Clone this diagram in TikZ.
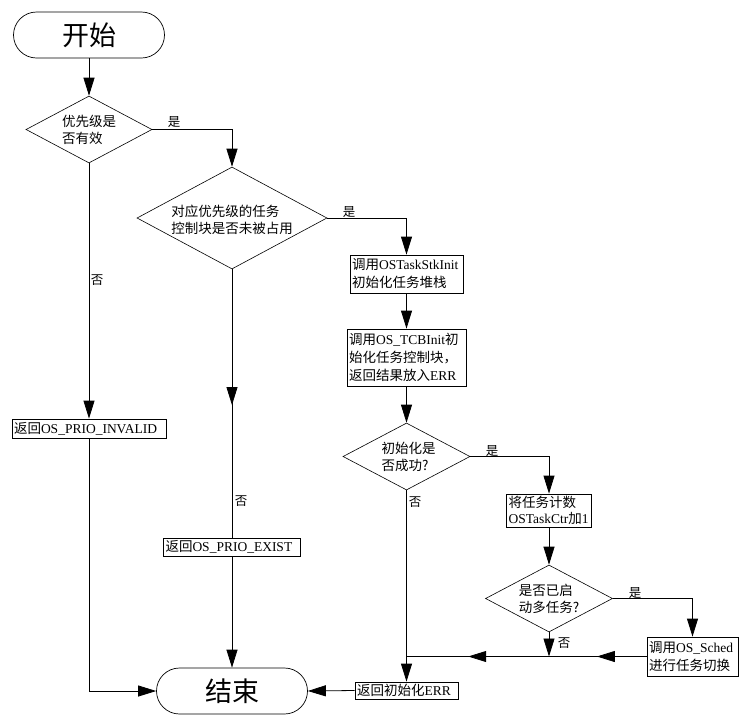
\documentclass[tikz,border=0pt]{standalone}
\usepackage{fontspec}
\setmainfont{Liberation Serif}
\newfontfamily\cjk{Noto Sans CJK SC}
\usetikzlibrary{arrows.meta,shapes.geometric,decorations.markings}
\begin{document}
\begin{tikzpicture}[x=1pt,y=-1pt,
  >={Triangle[length=18pt,width=11pt]},
  every node/.style={font=\fontsize{13.5}{18}\selectfont},
  ln/.style={line width=0.8pt},
  term/.style={draw,line width=0.7pt,rectangle,rounded corners=23pt,minimum width=151pt,minimum height=46pt,inner sep=0pt,font=\fontsize{27}{30}\selectfont\cjk},
  box/.style={draw,line width=0.8pt,rectangle,inner sep=2pt,align=left},
  dia/.style={draw,line width=0.6pt,diamond,inner sep=0pt},
  dtext/.style={align=left,inner sep=0pt,font=\fontsize{13.5}{17}\selectfont\cjk},
  lab/.style={inner sep=0pt,font=\fontsize{12.5}{14}\selectfont\cjk},
  midarr/.style={postaction={decorate},decoration={markings,mark=at position #1 with {\arrow{>}}}},
  twoarr/.style={postaction={decorate},decoration={markings,mark=at position 0.207 with {\arrow{>}},mark=at position 0.743 with {\arrow{>}}}}
]
\fill[white] (0,0) rectangle (747,721);
\useasboundingbox (0,0) rectangle (747,721);

% terminators
\node[term] (start) at (89,35) {开始};
\node[term] (end) at (232,691) {结束};

% decisions
\node[dia,minimum width=126pt,minimum height=67pt] (d1) at (89,129.5) {};
\node[dtext] (t1) at (d1.center) {优先级是\\否有效};
\node[dia,minimum width=190pt,minimum height=102pt] (d2) at (232,218) {};
\node[dtext] (t2) at ([yshift=-1.5pt]d2.center) {对应优先级的任务\\控制块是否未被占用};
\node[dia,minimum width=127pt,minimum height=67pt] (d3) at (406.5,456.5) {};
\node[dtext] (t3) at ([xshift=2pt]d3.center) {初始化是\\否成功?};
\node[dia,minimum width=127pt,minimum height=67pt] (d4) at (549,598.5) {};
\node[dtext] (t4) at (d4.center) {是否已启\\动多任务?};

% process boxes
\node[box,minimum width=113pt,minimum height=38pt,text width=109pt] (b1) at (406.5,274) {{\cjk 调用}OSTaskStkInit\\{\cjk 初始化任务堆栈}};
\node[box,minimum width=119pt,minimum height=57pt,text width=115pt] (b2) at (406.5,357.5) {{\cjk 调用}OS\_TCBInit{\cjk 初}\\{\cjk 始化任务控制块，}\\{\cjk 返回结果放入}ERR};
\node[box,minimum width=85pt,minimum height=33pt,text width=81pt,font=\fontsize{13.5}{16}\selectfont] (b3) at (549,510.5) {{\cjk 将任务计数}\\OSTaskCtr{\cjk 加}1};
\node[box,minimum width=91pt,minimum height=39pt,text width=87pt] (b4) at (692.5,656.5) {{\cjk 调用}OS\_Sched\\{\cjk 进行任务切换}};
\node[box,minimum width=154pt,minimum height=19pt,text width=150pt] (binv) at (89,428.5) {{\cjk 返回}OS\_PRIO\_INVALID};
\node[box,minimum width=137pt,minimum height=18pt,text width=133pt] (bexist) at (232,547) {{\cjk 返回}OS\_PRIO\_EXIST};
\node[box,minimum width=103pt,minimum height=17pt,text width=99pt] (b5) at (406.5,690.5) {{\cjk 返回初始化}ERR};

% labels
\node[lab] (l1) at (174,122) {是};
\node[lab] (l2) at (97,280) {否};
\node[lab] (l3) at (349,212) {是};
\node[lab] (l4) at (241,501) {否};
\node[lab] (l5) at (492,451) {是};
\node[lab] (l6) at (415,502) {否};
\node[lab] (l7) at (635,593) {是};
\node[lab] (l8) at (564,643) {否};

% junctions
\coordinate (j) at (d3.south |- b4.west);
\coordinate (j4) at (d4.south |- b4.west);

% connectors
\draw[ln,->] (start.south) -- (d1.north);
\draw[ln,->] (d1.east) -| (d2.north);
\draw[ln,->] (d2.east) -| (b1.north);
\draw[ln,->] (b1.south) -- (b2.north);
\draw[ln,->] (b2.south) -- (d3.north);
\draw[ln,->] (d3.east) -| (b3.north);
\draw[ln,->] (b3.south) -- (d4.north);
\draw[ln,->] (d4.east) -| (b4.north);
\draw[ln,twoarr] (b4.west) -- (j);
\draw[ln,->] (d4.south) -- (j4);
\draw[ln,->] (d3.south) -- (b5.north);
\draw[ln,->] (b5.west) -- (end.east);
\draw[ln,->] (d1.south) -- (binv.north);
\draw[ln,->] (binv.south) |- (end.west);
\draw[ln,midarr=0.506] (d2.south) -- (bexist.north);
\draw[ln,->] (bexist.south) -- (end.north);
\end{tikzpicture}
\end{document}
